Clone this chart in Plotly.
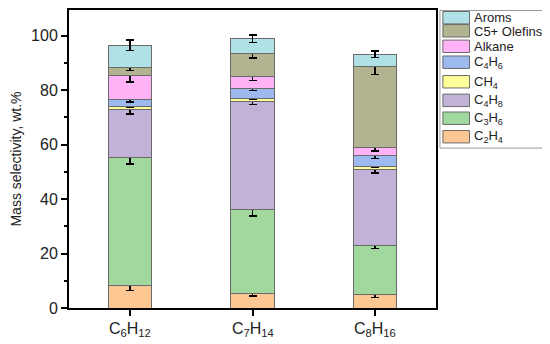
import plotly.graph_objects as go

categories = ["C6H12", "C7H14", "C8H16"]
tick_labels = ["C<sub>6</sub>H<sub>12</sub>", "C<sub>7</sub>H<sub>14</sub>", "C<sub>8</sub>H<sub>16</sub>"]

series_names = ["C<sub>2</sub>H<sub>4</sub>", "C<sub>3</sub>H<sub>6</sub>", "C<sub>4</sub>H<sub>8</sub>",
                "CH<sub>4</sub>", "C<sub>4</sub>H<sub>6</sub>", "Alkane", "C5+ Olefins", "Aroms"]

c2h4 = [8.3, 5.5, 5.1]
c3h6 = [46.9, 30.5, 17.7]
c4h8 = [17.5, 39.8, 28.0]
ch4 = [1.4, 1.2, 1.3]
c4h6 = [2.5, 3.6, 3.8]
alkane = [8.8, 4.3, 2.9]
c5_olefins = [3.0, 8.4, 29.7]
aroms = [8.0, 5.5, 4.6]

err_c2h4 = [1.9, 1.1, 1.2]
err_c3h6 = [2.3, 2.3, 0.9]
err_c4h8 = [1.5, 1.0, 1.2]
err_ch4 = [0.4, 0.5, 0.4]
err_c4h6 = [1.0, 0.7, 1.0]
err_alkane = [2.5, 1.3, 1.1]
err_c5 = [1.3, 1.5, 2.8]
err_aroms = [1.9, 1.4, 1.2]

colors = ["#fdc794", "#a0d89e", "#c2b2d8", "#ffff99", "#9cb9f0", "#ffb2f6", "#b2b390", "#b0e1e6"]

values = [c2h4, c3h6, c4h8, ch4, c4h6, alkane, c5_olefins, aroms]
errors = [err_c2h4, err_c3h6, err_c4h8, err_ch4, err_c4h6, err_alkane, err_c5, err_aroms]

# The page body has an 8px margin, so the figure is drawn 8px right/down.
OFF = 8
W, H = 550 - OFF, 344 - OFF
L, R, T, B = 56, 114, 0, 36
PW, PH = W - L - R, H - T - B


def px(xs):
    # screen x -> paper x
    return (xs - OFF - L) / PW


def py(ys):
    # screen y -> paper y
    return (H - B - (ys - OFF)) / PH


fig = go.Figure()
for name, vals, errs, col in zip(series_names, values, errors, colors):
    fig.add_trace(go.Bar(
        x=categories, y=vals, name=name,
        marker=dict(color=col, line=dict(color="#6a6a6a", width=1)),
        error_y=dict(type="data", array=errs, visible=True, color="black", thickness=1.5, width=4),
        width=0.355, showlegend=False,
    ))

shapes = []
annotations = []
# legend box
shapes.append(dict(type="rect", xref="paper", yref="paper",
                   x0=px(440), x1=px(546), y0=py(147), y1=py(8.5),
                   line=dict(color="#999999", width=1), fillcolor="white"))
swatch_tops = [129.3, 110.7, 92.7, 74.0, 54.3, 38.3, 22.7, 9.5]  # C2H4 ... Aroms
for name, col, top in zip(series_names, colors, swatch_tops):
    shapes.append(dict(type="rect", xref="paper", yref="paper",
                       x0=px(443), x1=px(470), y0=py(top + 12.5), y1=py(top),
                       line=dict(color="#6a6a6a", width=1), fillcolor=col))
    annotations.append(dict(xref="paper", yref="paper", x=px(472), y=py(top + 6.5),
                            xanchor="left", yanchor="middle", text=name, showarrow=False,
                            font=dict(size=13, color="#222222")))

for cat, lab in zip(categories, tick_labels):
    annotations.append(dict(xref="x", yref="paper", x=cat, y=py(318), xanchor="center", yanchor="top",
                            text=lab, showarrow=False, font=dict(size=16, color="#222222")))

fig.update_layout(
    barmode="stack",
    width=W, height=H,
    margin=dict(l=L, r=R, t=T, b=B),
    plot_bgcolor="white", paper_bgcolor="white",
    font=dict(family="Liberation Sans, Arial, sans-serif", color="#222222"),
    showlegend=False,
    shapes=shapes,
    annotations=annotations,
    xaxis=dict(
        range=[-0.5, 2.5],
        showline=True, linecolor="black", linewidth=2, mirror=True,
        ticks="outside", ticklen=6, tickwidth=2, tickcolor="black",
        showticklabels=False,
    ),
    yaxis=dict(
        range=[0, 109.4],
        tickvals=[0, 20, 40, 60, 80, 100],
        showline=True, linecolor="black", linewidth=2, mirror=True,
        ticks="outside", ticklen=6, tickwidth=1.5, tickcolor="black",
        minor=dict(dtick=10, ticks="outside", ticklen=3, tickwidth=1.5, tickcolor="black"),
        showgrid=False, zeroline=False,
        tickfont=dict(size=16, color="#222222"),
        title=dict(text="Mass selectivity, wt.%", font=dict(size=14, color="#222222"), standoff=13),
    ),
)

fig.write_html("out.html")
